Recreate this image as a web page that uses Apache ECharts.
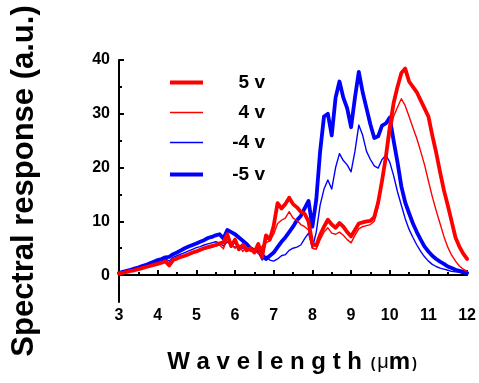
<!DOCTYPE html>
<html>
<head>
<meta charset="utf-8">
<script src="https://cdn.jsdelivr.net/npm/echarts@6/dist/echarts.min.js"></script>
<style>
html,body{margin:0;padding:0;background:#fff;}
#chart{width:479px;height:383px;}
</style>
</head>
<body>
<div id="chart"></div>
<script>
// Wavelength grid (µm), 3.0 .. 12.0 step 0.1
var wavelength = [];
for (var i = 0; i <= 90; i++) wavelength.push(+(3 + i * 0.1).toFixed(1));

var seriesNames = ['5 v', '4 v', '-4 v', '-5 v'];
var xTicks = [3,4,5,6,7,8,9,10,11,12];
var yTicks = [0,10,20,30,40];

// 5 v (thick red)
var p5 = [0.3,0.4,0.6,0.8,0.9,1.1,1.3,1.5,1.7,1.9,
          2.1,2.3,2.6,1.8,2.8,3.1,3.4,3.6,3.9,4.2,
          4.4,4.7,5.0,5.2,5.4,5.6,5.9,6.1,7.6,5.4,
          6.6,4.8,5.6,4.6,5.0,4.2,5.8,3.4,7.4,6.6,
          9.2,13.4,12.4,13.2,14.4,13.2,12.6,11.8,11.4,10.0,
          5.8,5.5,7.5,9.0,10.3,9.4,8.8,9.7,9.0,8.0,
          7.2,8.4,9.6,9.8,10.0,10.1,10.8,13.5,17.5,22.0,
          27.5,32.0,35.0,37.6,38.4,36.0,35.0,34.0,32.5,31.0,
          29.5,26.0,22.8,19.2,15.8,13.0,10.0,7.0,5.3,4.0,3.0];
// 4 v (thin red)
var p4 = [0.2,0.4,0.5,0.7,0.9,1.0,1.2,1.4,1.6,1.8,
          2.0,2.2,2.4,2.2,2.7,3.0,3.2,3.5,3.8,4.0,
          4.3,4.5,4.8,5.0,5.2,5.4,5.6,4.9,6.8,5.8,
          5.0,5.6,4.4,5.2,4.4,4.8,4.0,5.4,6.0,6.4,
          7.6,9.6,10.2,10.6,11.8,10.6,10.2,9.4,9.0,8.4,
          5.0,4.8,6.6,8.0,8.8,7.8,7.6,8.0,7.4,6.6,
          6.0,7.4,8.6,9.0,9.2,9.4,10.0,12.8,17.0,21.5,
          26.0,29.5,31.2,32.8,31.5,29.5,27.4,25.4,23.0,20.5,
          17.5,14.6,12.0,9.6,7.2,5.2,3.7,2.6,1.7,1.1,0.7];
// -4 v (thin blue)
var m4 = [0.3,0.5,0.7,0.9,1.1,1.3,1.5,1.7,2.0,2.2,
          2.5,2.7,3.0,2.6,3.3,3.6,3.9,4.2,4.5,4.8,
          5.1,5.3,5.6,5.8,6.0,6.2,6.0,5.4,6.2,5.5,
          5.2,5.4,5.0,4.8,4.6,4.4,4.2,2.8,3.5,2.8,
          2.6,3.0,3.6,3.8,4.6,5.0,5.2,5.6,6.8,7.8,
          5.0,8.0,13.0,16.0,17.7,16.0,20.0,22.6,21.3,20.5,
          19.2,23.0,27.9,26.0,23.0,21.5,20.3,19.9,21.5,22.3,
          21.0,18.5,15.5,13.0,10.5,8.5,7.0,5.6,4.4,3.4,
          2.6,2.0,1.6,1.3,1.1,0.9,0.7,0.6,0.5,0.3,0.2];
// -5 v (thick blue)
var m5 = [0.4,0.6,0.8,1.0,1.2,1.4,1.7,1.9,2.2,2.5,
          2.8,3.0,3.3,3.4,3.9,4.2,4.6,5.0,5.3,5.6,
          5.9,6.2,6.5,6.9,7.1,7.4,7.6,6.8,8.4,8.0,
          7.6,7.0,6.4,5.8,5.0,4.6,4.4,3.8,3.0,3.6,
          4.2,5.2,6.2,7.0,8.0,9.0,10.2,11.0,12.4,13.8,
          9.0,14.0,23.0,29.5,30.0,26.0,33.0,36.0,33.0,31.0,
          27.5,33.0,37.8,34.0,31.0,28.0,25.5,25.8,27.8,28.2,
          29.3,25.0,21.0,16.5,13.5,11.5,9.6,8.0,6.6,5.3,
          4.4,3.6,3.0,2.5,2.1,1.6,1.3,1.0,0.8,0.6,0.4];

function pairs(vals){ return wavelength.map(function(w,i){ return [w, vals[i]]; }); }

var FONT = '"Liberation Sans", Arial, sans-serif';
var RED = '#ff0000', BLUE = '#0000ff';
var THICK = 3.8, THIN = 1.4;
var chart = echarts.init(document.getElementById('chart'), null, {renderer:'canvas'});

function lineSeries(name, vals, color, width, z){
  return {
    name: name, type: 'line', data: pairs(vals), symbol: 'none', showSymbol: false,
    smooth: false, z: z,
    lineStyle: {color: color, width: width, join: 'round', cap: 'round'},
    itemStyle: {color: color}
  };
}

var legendCenters = [78, 108, 138, 170];
var legendWidths = [THICK, THIN, THIN, THICK];
var legendColors = [RED, RED, BLUE, BLUE];
var legends = seriesNames.map(function(n, k){
  return {
    data: [n], orient: 'vertical', left: 165, top: legendCenters[k] - 10,
    icon: 'rect', itemWidth: 33, itemHeight: legendWidths[k],
    itemStyle: {color: legendColors[k]},
    selectedMode: false,
    formatter: function(t){ return '{t|' + t + '}'; },
    textStyle: {
      rich: {t: {width: 57, align: 'right', fontFamily: FONT, fontWeight: 'bold', fontSize: 19, lineHeight: 20, color: '#000'}}
    }
  };
});

chart.setOption({
  animation: false,
  backgroundColor: '#ffffff',
  grid: {left: 119, right: 8, top: 60, bottom: 81, containLabel: false},
  legend: legends,
  xAxis: {
    type: 'value', min: 3, max: 12, interval: 1,
    name: '{a|W a v e l e n g t h}{s| }{b|(}{c|μ}{d|m}{b|)}',
    nameLocation: 'middle', nameGap: 48,
    nameTextStyle: {
      rich: {
        a: {fontFamily: FONT, fontWeight: 'bold', fontSize: 24, color: '#000'},
        s: {fontFamily: FONT, fontSize: 24},
        b: {fontFamily: FONT, fontWeight: 'bold', fontSize: 14, color: '#000', padding: [4,2,0,2]},
        c: {fontFamily: FONT, fontSize: 20, color: '#000'},
        d: {fontFamily: FONT, fontWeight: 'bold', fontSize: 24, color: '#000'}
      }
    },
    axisLine: {show: true, lineStyle: {color: '#000', width: 2}},
    axisTick: {show: true, inside: true, length: 5, lineStyle: {color: '#000', width: 2}},
    minorTick: {show: true, splitNumber: 2, length: 3, lineStyle: {color: '#000', width: 2}},
    splitLine: {show: false},
    axisLabel: {fontFamily: FONT, fontWeight: 'bold', fontSize: 16, color: '#000', margin: 6}
  },
  yAxis: [{
    type: 'value', min: -5, max: 40,
    name: 'Spectral response (a.u.)',
    nameLocation: 'middle', nameGap: 79,
    nameTextStyle: {fontFamily: FONT, fontWeight: 'bold', fontSize: 31, color: '#000'},
    axisLine: {show: true, lineStyle: {color: '#000', width: 2}},
    axisTick: {show: true, inside: true, length: 5, customValues: yTicks, lineStyle: {color: '#000', width: 2}},
    splitLine: {show: false},
    axisLabel: {fontFamily: FONT, fontWeight: 'bold', fontSize: 16, color: '#000', margin: 9, customValues: yTicks}
  }, {
    type: 'value', min: -5, max: 40, position: 'left',
    axisLine: {show: false},
    axisTick: {show: true, inside: true, length: 3, customValues: [5,15,25,35], lineStyle: {color: '#000', width: 2}},
    axisLabel: {show: false},
    splitLine: {show: false}
  }],
  series: [
    lineSeries('-4 v', m4, BLUE, THIN, 2),
    lineSeries('-5 v', m5, BLUE, THICK, 3),
    lineSeries('4 v', p4, RED, THIN, 4),
    lineSeries('5 v', p5, RED, THICK, 5)
  ]
});
</script>
</body>
</html>
